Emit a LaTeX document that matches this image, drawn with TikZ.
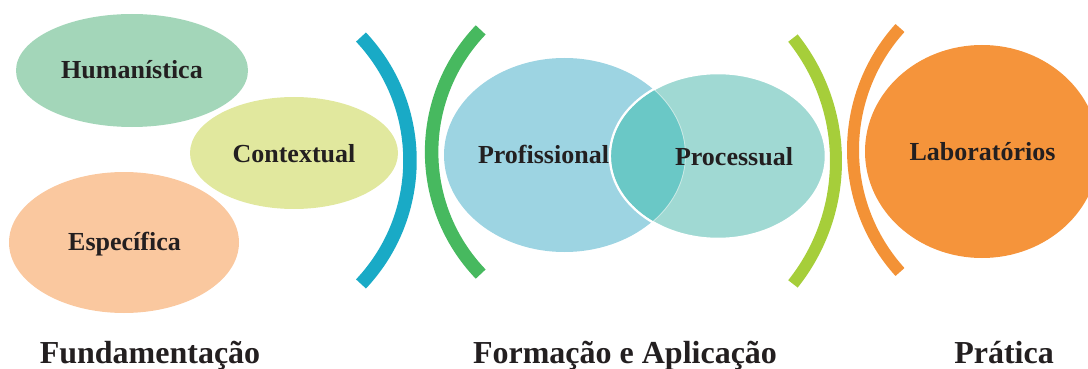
\documentclass[tikz,border=0pt]{standalone}
\usepackage{fontspec}
\setmainfont{Liberation Serif}
\usetikzlibrary{shapes.geometric}
\definecolor{cHum}{HTML}{A3D6B9}
\definecolor{cCon}{HTML}{E1E89E}
\definecolor{cEsp}{HTML}{FAC89F}
\definecolor{cBlue}{HTML}{19AAC6}
\definecolor{cGreen}{HTML}{47B95F}
\definecolor{cProf}{HTML}{9DD4E2}
\definecolor{cProc}{HTML}{A0D9D3}
\definecolor{cOver}{HTML}{6AC8C6}
\definecolor{cLime}{HTML}{A6CE3A}
\definecolor{cOrArc}{HTML}{F39236}
\definecolor{cLab}{HTML}{F5943B}
\definecolor{cText}{HTML}{231F20}
\tikzset{
  blob/.style={ellipse, draw=none, inner sep=0pt},
  lbl/.style={anchor=base, text=cText, inner sep=0pt, font=\bfseries\fontsize{26}{30}\selectfont},
  caption/.style={anchor=base, text=cText, inner sep=0pt, font=\bfseries\fontsize{32}{36}\selectfont},
  bracket/.style={line cap=butt}
}
\begin{document}
\begin{tikzpicture}[x=1pt,y=-1pt]
\useasboundingbox (0,0) rectangle (1088,369);
\clip (0,0) rectangle (1088,369);
% Fundamentacao group
\node[blob, fill=cHum, minimum width=232pt, minimum height=113pt] (hum) at (132,70.5) {};
\node[blob, fill=cEsp, minimum width=230pt, minimum height=141pt] (esp) at (124,242.5) {};
\node[blob, fill=cCon, minimum width=208pt, minimum height=112pt] (con) at (294,153) {};
\node[lbl] (thum) at (132,78) {Humanística};
\node[lbl] (tcon) at (294,162) {Contextual};
\node[lbl] (tesp) at (124.5,250) {Específica};
% brackets
\draw[bracket, draw=cBlue, line width=13.5pt] (230,160.5) ++(-43.3:180) arc[start angle=-43.3, end angle=43.3, radius=180];
\draw[bracket, draw=cGreen, line width=13.5pt] (608,152) ++(136.2:176.4) arc[start angle=136.2, end angle=223.8, radius=176.4];
% Formacao e Aplicacao group
\node[blob, fill=cProf, minimum width=241pt, minimum height=194pt] (prof) at (564.5,155) {};
\node[blob, fill=cProc, draw=white, line width=2.5pt, minimum width=216pt, minimum height=166pt] (proc) at (718,156) {};
\begin{scope}
  \clip (564.5,155) ellipse [x radius=120.5, y radius=97];
  \fill[cOver] (718,156) ellipse [x radius=106.8, y radius=81.8];
\end{scope}
\begin{scope}
  \clip (718,156) ellipse [x radius=106.8, y radius=81.8];
  \draw[white, opacity=0.45, line width=0.8pt] (564.5,155) ellipse [x radius=121, y radius=97.5];
\end{scope}
\node[lbl] (tprof) at (543.5,163) {Profissional};
\node[lbl] (tproc) at (734,165) {Processual};
% brackets
\draw[bracket, draw=cLime, line width=12pt] (639,161) ++(-38.6:197) arc[start angle=-38.6, end angle=38.6, radius=197];
\draw[bracket, draw=cOrArc, line width=12pt] (1035,150) ++(137.9:182) arc[start angle=137.9, end angle=222.1, radius=182];
% Pratica group
\node[blob, fill=cLab, minimum width=234pt, minimum height=213pt] (lab) at (982,151.5) {};
\node[lbl] (tlab) at (982.5,160) {Laboratórios};
% captions
\node[caption] (cfund) at (150,363) {Fundamentação};
\node[caption] (cform) at (625,363) {Formação e Aplicação};
\node[caption] (cprat) at (1004,363) {Prática};
\end{tikzpicture}
\end{document}
